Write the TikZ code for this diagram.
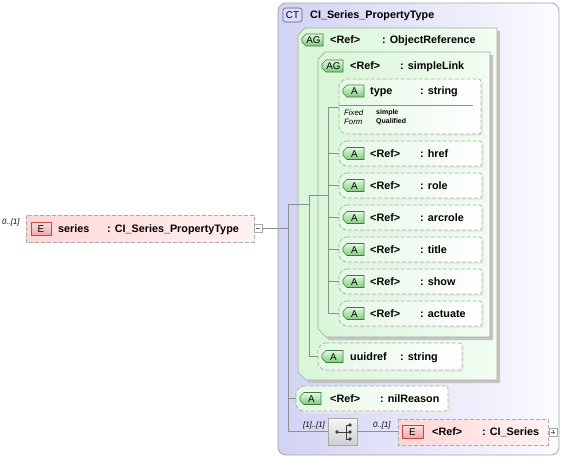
\documentclass[tikz,border=0pt]{standalone}
\usepackage{fontspec}
\setmainfont{Liberation Sans}
\definecolor{ctL}{HTML}{D2D2F4}
\definecolor{ctR}{HTML}{FBFBFF}
\definecolor{ctB}{HTML}{A4A4AE}
\definecolor{ctBadge}{HTML}{DCDCF6}
\definecolor{ctBadgeB}{HTML}{5A5A9A}
\definecolor{agL}{HTML}{D8F6D8}
\definecolor{agR}{HTML}{F2FDF2}
\definecolor{agB}{HTML}{A8A8A8}
\definecolor{shad}{HTML}{C4C4C4}
\definecolor{aL}{HTML}{E4F8E4}
\definecolor{aR}{HTML}{FFFFFF}
\definecolor{aB}{HTML}{ABABAB}
\definecolor{bTop}{HTML}{E2FAE2}
\definecolor{bBot}{HTML}{7CCB7C}
\definecolor{bB}{HTML}{3F7A3F}
\definecolor{eL}{HTML}{FFD6D6}
\definecolor{eR}{HTML}{FFF2F2}
\definecolor{eTop}{HTML}{FCE0E0}
\definecolor{eBot}{HTML}{F0A8A8}
\definecolor{eB}{HTML}{C24848}
\definecolor{connc}{HTML}{8E8E8E}
\definecolor{seqTop}{HTML}{F6F6F6}
\definecolor{seqBot}{HTML}{CFCFCF}
\begin{document}
\begin{tikzpicture}[x=1pt,y=-1pt,
  conn/.style={draw=connc,line width=0.7pt},
  lbl/.style={anchor=base west,inner sep=0pt,font=\fontsize{10.8}{13}\selectfont\bfseries},
  mult/.style={anchor=base west,inner sep=0pt,font=\fontsize{7.8}{9}\selectfont\itshape},
  tiny/.style={anchor=base west,inner sep=0pt,font=\fontsize{7}{8}\selectfont},
  badgetxt/.style={inner sep=0pt,font=\fontsize{9.8}{11}\selectfont},
  greenbadge/.style={top color=bTop,bottom color=bBot,draw=bB,line width=0.6pt},
  redbadge/.style={top color=eTop,bottom color=eBot,draw=eB,line width=0.6pt},
  abox/.style={left color=aL,right color=aR,draw=aB,dash pattern=on 4pt off 2pt,line width=0.7pt},
  agbox/.style={left color=agL,right color=agR,draw=agB,line width=0.7pt},
  ebox/.style={left color=eL,right color=eR,draw=aB,dash pattern=on 4pt off 2pt,line width=0.7pt},
]
\useasboundingbox (0,0) rectangle (564,458);

% ---------- macros ----------
\newcommand\gbadge[4]{% x0, yc, text, name
  \shadedraw[greenbadge] (#1+4,#2-6) -- (#1+21,#2-6) -- (#1+21,#2+6) -- (#1+4,#2+6) -- (#1,#2+2) -- (#1,#2-2) -- cycle;
  \node[badgetxt] (#4) at (#1+11.5,#2+0.3) {#3};}
\newcommand\attr[9]{% name, x0, y0, x1, y1, t1, t2, xt1, xt2
  \pgfmathsetmacro\yc{(#3+#5)/2}
  \fill[black!8,rounded corners=2pt] (#2+7,#3+2) -- (#4+2,#3+2) -- (#4+2,#5+2) -- (#2+7,#5+2) -- cycle;
  \shadedraw[abox,rounded corners=2.5pt] (#2+5,#3) -- (#4,#3) -- (#4,#5) -- (#2+5,#5) -- (#2,#5-5) -- (#2,#3+5) -- cycle;
  \gbadge{#2+4}{\yc}{A}{#1-badge}
  \node[lbl] (#1-name) at (#8,\yc+3.6) {#6};
  \node[lbl] (#1-type) at (#9,\yc+3.6) {#7};
  \coordinate (#1) at (#2,\yc);}

% ---------- complex type box ----------
\shadedraw[left color=ctL,right color=ctR,draw=ctB,line width=0.8pt,rounded corners=8pt] (278,3) rectangle (559,455);
\draw[fill=ctBadge,draw=ctBadgeB,line width=0.6pt,rounded corners=2.5pt] (283,8) rectangle (302,22);
\node[badgetxt] (ctbadge) at (292.5,15.3) {CT};
\node[lbl] (cttitle) at (310,18.5) {CI\_Series\_PropertyType};

% ---------- AG ObjectReference ----------
\fill[shad] (301+7,31) -- (500,31) -- (500,383) -- (301+8,383) -- (301,383-8) -- (301,31+7) -- cycle;
\shadedraw[agbox] (298+7,28) -- (497,28) -- (497,380) -- (298+8,380) -- (298,380-8) -- (298,28+7) -- cycle;
\coordinate (objref) at (298,204);
\gbadge{302}{40}{AG}{ag1badge}
\node[lbl] (ag1name) at (330,43.6) {<Ref>};
\node[lbl] (ag1type) at (382,43.6) {: ObjectReference};

% ---------- AG simpleLink ----------
\fill[shad] (321+7,55) -- (493,55) -- (493,340) -- (321+8,340) -- (321,340-8) -- (321,55+7) -- cycle;
\shadedraw[agbox] (318+7,52) -- (490,52) -- (490,337) -- (318+8,337) -- (318,337-8) -- (318,52+7) -- cycle;
\coordinate (simplelink) at (318,195);
\gbadge{322}{66}{AG}{ag2badge}
\node[lbl] (ag2name) at (350,69.6) {<Ref>};
\node[lbl] (ag2type) at (400,69.6) {: simpleLink};

% ---------- type attribute (with fixed value) ----------
\fill[black!8,rounded corners=2pt] (346,81) -- (483,81) -- (483,136) -- (346,136) -- cycle;
\shadedraw[abox,rounded corners=2.5pt] (344,79) -- (481,79) -- (481,134) -- (344,134) -- (339,129) -- (339,84) -- cycle;
\gbadge{343}{91}{A}{typebadge}
\node[lbl] (typename) at (370,94.6) {type};
\node[lbl] (typetype) at (420,94.6) {: string};
\draw[draw=connc,line width=0.6pt] (339,105) -- (473,105);
\node[mult] (fixedlbl) at (344,115) {Fixed};
\node[mult] (formlbl) at (344,124.5) {Form};
\node[tiny,font=\fontsize{7}{8}\selectfont\bfseries] (fixedval) at (376,114) {simple};
\node[tiny,font=\fontsize{7}{8}\selectfont\bfseries] (formval) at (376,123.5) {Qualified};
\coordinate (typeattr) at (339,107);

% ---------- other attributes of simpleLink ----------
\attr{href}{339}{141}{482}{166}{<Ref>}{: href}{370}{420}
\attr{role}{339}{173}{482}{198}{<Ref>}{: role}{370}{420}
\attr{arcrole}{339}{205}{482}{230}{<Ref>}{: arcrole}{370}{420}
\attr{title}{339}{237}{482}{262}{<Ref>}{: title}{370}{420}
\attr{show}{339}{269}{482}{294}{<Ref>}{: show}{370}{420}
\attr{actuate}{339}{301}{482}{326}{<Ref>}{: actuate}{370}{420}

% ---------- uuidref ----------
\attr{uuidref}{318}{343}{462}{370}{uuidref}{: string}{350}{400}

% ---------- nilReason ----------
\attr{nilreason}{296}{386}{448}{411}{<Ref>}{: nilReason}{330}{380}

% ---------- sequence compositor ----------
\shadedraw[top color=seqTop,bottom color=seqBot,draw=agB,line width=0.7pt] (328,418) rectangle (357,445);
\coordinate (seqW) at (328,431.5);
\coordinate (seqE) at (357,431.5);
\draw[line width=0.8pt,black!75] (337,432) -- (346,432) (346,425) -- (346,439) (346,425) -- (350,425) (346,439) -- (350,439) (346,432) -- (350,432);
\fill[black!75] (337,432) circle (1.9pt) (350,425) circle (1.9pt) (350,432) circle (1.9pt) (350,439) circle (1.9pt);
\node[mult,anchor=base east] (seqmult) at (325,427) {[1]..[1]};

% ---------- CI_Series element ----------
\shadedraw[ebox] (398,419) rectangle (548,445);
\coordinate (ciseries) at (398,431.5);
\shadedraw[redbadge] (402,425) rectangle (423,438);
\node[badgetxt] (cibadge) at (412.5,431.8) {E};
\node[lbl] (ciname) at (432,435.6) {<Ref>};
\node[lbl] (citype) at (482,435.6) {: CI\_Series};
\node[mult] (cimult) at (373,427) {0..[1]};
\draw[draw=aB,fill=white,line width=0.5pt] (549,428) rectangle (557,436);
\draw[black!55,line width=0.5pt] (551,432) -- (555,432) (553,430) -- (553,434);

% ---------- series element ----------
\shadedraw[ebox] (26,215) rectangle (254,242);
\shadedraw[redbadge] (31,222) rectangle (51,235);
\node[badgetxt] (seriesbadge) at (41,228.8) {E};
\node[lbl] (seriesname) at (58,232.1) {series};
\node[lbl] (seriestype) at (107,232.1) {: CI\_Series\_PropertyType};
\node[mult] (seriesmult) at (2,224) {0..[1]};
\draw[draw=aB,fill=white,line width=0.5pt] (254,224.5) rectangle (262,232.5);
\draw[black!55,line width=0.5pt] (256,228.5) -- (260,228.5);
\coordinate (seriesE) at (262,228.5);

% ---------- connectors ----------
\coordinate (trunkTop) at (288,204);
\coordinate (trunkBot) at (288,431.5);
\draw[conn] (seriesE) -- (seriesE -| trunkTop);
\draw[conn] (trunkTop) -- (trunkBot);
\draw[conn] (trunkTop) -- (309,204);
\draw[conn] (nilreason -| trunkTop) -- (nilreason);
\draw[conn] (trunkBot) -- (seqW);
\draw[conn] (seqE) -- (ciseries);
% inside ObjectReference
\coordinate (agTop) at (309,195);
\draw[conn] (agTop) -- (uuidref -| agTop) -- (uuidref);
\draw[conn] (agTop) -- (328,195);
% inside simpleLink
\coordinate (slTop) at (328,107);
\draw[conn] (slTop) -- (actuate -| slTop);
\foreach \n in {typeattr,href,role,arcrole,title,show,actuate}
  \draw[conn] (\n -| slTop) -- (\n);
\end{tikzpicture}
\end{document}
